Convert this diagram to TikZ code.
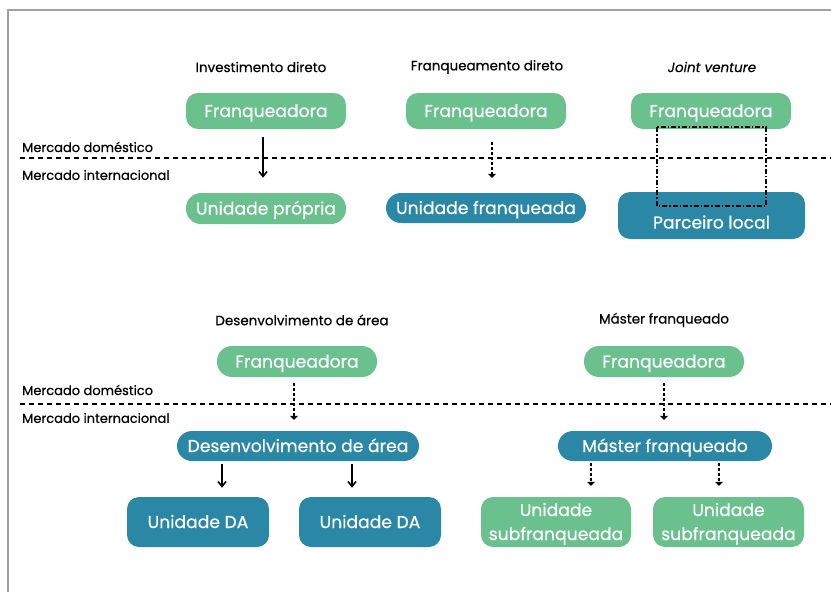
\documentclass[tikz,border=0pt]{standalone}
\usepackage{fontspec}
\setmainfont{Poppins}
\newfontfamily\medfont{Poppins}[FakeBold=0.5]
\usetikzlibrary{arrows.meta}
\definecolor{fgreen}{RGB}{106,193,142}
\definecolor{fblue}{RGB}{42,135,166}
\definecolor{frame}{RGB}{160,160,160}
\tikzset{
  boxbase/.style={rounded corners=12pt, text=white, font=\medfont\fontsize{17.2}{24}\selectfont, inner sep=0pt, align=center, text height=14pt, text depth=2pt},
  gbox/.style={boxbase, fill=fgreen},
  bbox/.style={boxbase, fill=fblue},
  twoline/.style={text height={}, text depth={}},
  title/.style={font=\medfont\fontsize{13.5}{16}\selectfont, inner sep=0pt},
  mkt/.style={font=\medfont\fontsize{13}{15}\selectfont, anchor=west, inner sep=0pt},
  divider/.style={line width=2.2pt, dash pattern=on 5pt off 4pt},
  solidarr/.style={line width=1.6pt, -{Straight Barb[length=5pt,width=8pt]}},
  dotarr/.style={line width=2.2pt, dash pattern=on 3pt off 2pt, -{Triangle[length=4pt,width=8pt]}},
  jvbox/.style={line width=2pt, dash pattern=on 5pt off 2pt on 1.5pt off 2pt},
}
\begin{document}
\begin{tikzpicture}[x=1pt,y=-1pt]
\useasboundingbox (0,0) rectangle (831,592);
% frame
\draw[frame, line width=1.5pt] (8,592) -- (8,10) -- (831,10);

% ---------- top row ----------
\node[title] (t1) at (261,67) {Investimento direto};
\node[title] (t2) at (487,67) {Franqueamento direto};
\node[title] (t3) at (712,67) {\itshape Joint venture};

\node[gbox, minimum width=160pt, minimum height=36pt] (f1) at (266,111) {Franqueadora};
\node[gbox, minimum width=160pt, minimum height=36pt] (f2) at (486,111) {Franqueadora};
\node[gbox, minimum width=160pt, minimum height=36pt] (f3) at (711,111) {Franqueadora};

\node[mkt] (md1) at (22,147) {Mercado doméstico};
\node[mkt] (mi1) at (22,175) {Mercado internacional};
\coordinate (l1a) at (20,158);
\coordinate (l1b) at (831,158);
\draw[divider] (l1a) -- (l1b);

\node[gbox, minimum width=160pt, minimum height=31pt, rounded corners=15pt] (u1) at (266,208.5) {Unidade própria};
\node[bbox, minimum width=200pt, minimum height=30pt, rounded corners=15pt] (u2) at (486,208) {Unidade franqueada};
\node[bbox, minimum width=187pt, minimum height=47pt, text height=28pt, text depth=2pt] (pl) at (711.5,215.5) {Parceiro local};

\draw[solidarr] ([xshift=-3pt,yshift=-8pt]f1.south) -- ([xshift=-3pt,yshift=15pt]u1.north);
\draw[dotarr] ([xshift=6pt,yshift=-13pt]f2.south) -- ([xshift=6pt,yshift=15pt]u2.north);
\draw[jvbox] (657,127) rectangle (766,206);

% ---------- bottom row ----------
\node[title] (t4) at (302,320) {Desenvolvimento de área};
\node[title] (t5) at (664,320) {Máster franqueado};

\node[gbox, minimum width=160pt, minimum height=31pt, rounded corners=15pt] (f4) at (297,361.5) {Franqueadora};
\node[gbox, minimum width=160pt, minimum height=31pt, rounded corners=15pt] (f5) at (664,361.5) {Franqueadora};

\node[mkt] (md2) at (22,390) {Mercado doméstico};
\node[mkt] (mi2) at (22,418) {Mercado internacional};
\coordinate (l2a) at (20,404);
\coordinate (l2b) at (831,404);
\draw[divider] (l2a) -- (l2b);

\node[bbox, minimum width=242pt, minimum height=30pt, rounded corners=15pt] (da) at (298,446) {Desenvolvimento de área};
\node[bbox, minimum width=214pt, minimum height=30pt, rounded corners=15pt] (mf) at (665,446) {Máster franqueado};

\draw[dotarr] ([xshift=-3pt,yshift=-6pt]f4.south) -- ([xshift=-4pt,yshift=11pt]da.north);
\draw[dotarr] ([yshift=-6pt]f5.south) -- ([xshift=-1pt,yshift=11pt]mf.north);

\node[bbox, minimum width=142pt, minimum height=50pt] (ud1) at (198,522) {Unidade DA};
\node[bbox, minimum width=142pt, minimum height=50pt] (ud2) at (370,522) {Unidade DA};
\node[gbox, twoline, minimum width=150pt, minimum height=50pt, text depth=1pt] (us1) at (556,522) {Unidade\\subfranqueada};
\node[gbox, twoline, minimum width=151pt, minimum height=50pt, text depth=1pt] (us2) at (728.5,522) {Unidade\\subfranqueada};

\draw[solidarr] ([xshift=-76pt,yshift=-3pt]da.south) -- ([xshift=24pt,yshift=9pt]ud1.north);
\draw[solidarr] ([xshift=54pt,yshift=-3pt]da.south) -- ([xshift=-18pt,yshift=9pt]ud2.north);
\draw[dotarr] ([xshift=-74pt,yshift=-2pt]mf.south) -- ([xshift=35pt,yshift=11pt]us1.north);
\draw[dotarr] ([xshift=54pt,yshift=-2pt]mf.south) -- ([xshift=-9.5pt,yshift=11pt]us2.north);
\end{tikzpicture}
\end{document}
